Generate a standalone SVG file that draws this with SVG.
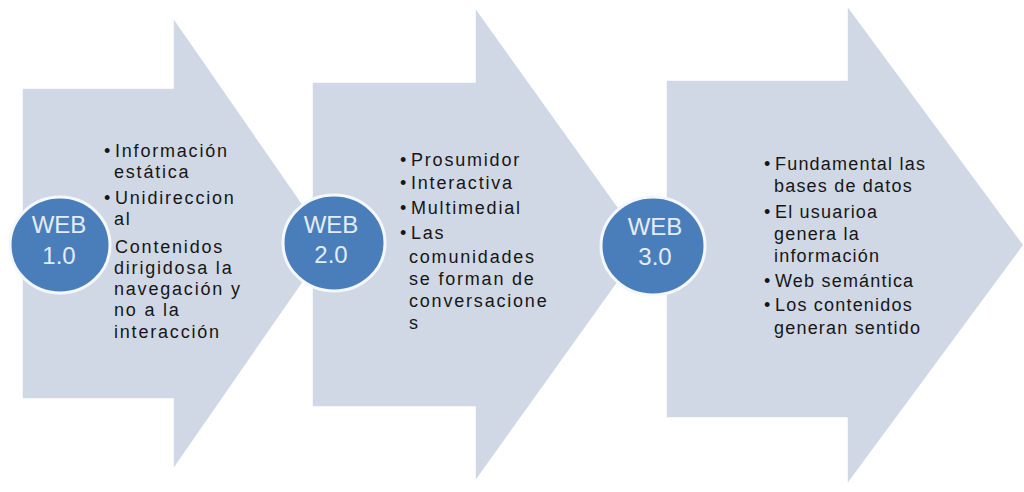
<svg xmlns="http://www.w3.org/2000/svg" width="1024" height="492" viewBox="0 0 1024 492">
  <style>
    .arrow { fill: #d1d8e5; stroke: #ffffff; stroke-width: 1.5; stroke-linejoin: miter; }
    .badge { fill: #4a7ebb; stroke: #f4f7fb; stroke-width: 3; }
    .badge-label { font-family: "Liberation Sans", Arial, sans-serif; font-size: 24px; fill: #e4ecf7; text-anchor: middle; }
    .items { font-family: "Liberation Sans", Arial, sans-serif; font-size: 18px; fill: #161616; letter-spacing: 1.8px; }
    .items.tight { letter-spacing: 1.2px; }
    .dot { letter-spacing: 0; }
  </style>
  <rect width="1024" height="492" fill="#ffffff"/>

  <!-- Stage 1 -->
  <g id="web10">
    <polygon class="arrow" points="22,88 173,88 173,17 330,243.5 173,470 173,399 22,399"/>
    <text class="items">
      <tspan class="dot" x="104" y="157">•</tspan><tspan x="115" y="157">Información</tspan>
      <tspan x="114" y="178">estática</tspan>
      <tspan class="dot" x="104" y="204">•</tspan><tspan x="115" y="204">Unidireccion</tspan>
      <tspan x="114" y="225">al</tspan>
      <tspan x="115" y="253">Contenidos</tspan>
      <tspan x="114" y="274">dirigidosa la</tspan>
      <tspan x="114" y="295">navegación y</tspan>
      <tspan x="114" y="316">no a la</tspan>
      <tspan x="114" y="338">interacción</tspan>
    </text>
  </g>

  <!-- Stage 2 -->
  <g id="web20">
    <polygon class="arrow" points="312,82 475,82 475,7 645,244.5 475,482 475,407 312,407"/>
    <text class="items">
      <tspan class="dot" x="400" y="166">•</tspan><tspan x="411" y="166">Prosumidor</tspan>
      <tspan class="dot" x="400" y="189">•</tspan><tspan x="411" y="189">Interactiva</tspan>
      <tspan class="dot" x="400" y="214">•</tspan><tspan x="411" y="214">Multimedial</tspan>
      <tspan class="dot" x="400" y="239">•</tspan><tspan x="411" y="239">Las</tspan>
      <tspan x="409" y="263">comunidades</tspan>
      <tspan x="409" y="285">se forman de</tspan>
      <tspan x="409" y="307">conversacione</tspan>
      <tspan x="409" y="329">s</tspan>
    </text>
  </g>

  <!-- Stage 3 -->
  <g id="web30">
    <polygon class="arrow" points="666,80 847,80 847,5 1024,245 847,485 847,418 666,418"/>
    <text class="items tight">
      <tspan class="dot" x="764" y="170">•</tspan><tspan x="775" y="170">Fundamental las</tspan>
      <tspan x="774" y="192">bases de datos</tspan>
      <tspan class="dot" x="764" y="218">•</tspan><tspan x="775" y="218">El usuarioa</tspan>
      <tspan x="774" y="240">genera  la</tspan>
      <tspan x="774" y="262">información</tspan>
      <tspan class="dot" x="764" y="287">•</tspan><tspan x="775" y="287">Web semántica</tspan>
      <tspan class="dot" x="764" y="311">•</tspan><tspan x="775" y="311">Los contenidos</tspan>
      <tspan x="774" y="334">generan sentido</tspan>
    </text>
  </g>

  <!-- Stage badges drawn last so they sit over the arrow tips -->
  <g id="badge-web10">
    <ellipse class="badge" cx="60" cy="245" rx="50" ry="48"/>
    <text class="badge-label" x="59" y="233">WEB<tspan x="59" y="264">1.0</tspan></text>
  </g>
  <g id="badge-web20">
    <ellipse class="badge" cx="334" cy="243" rx="51" ry="48"/>
    <text class="badge-label" x="331" y="233">WEB<tspan x="331" y="263">2.0</tspan></text>
  </g>
  <g id="badge-web30">
    <ellipse class="badge" cx="653" cy="246" rx="52" ry="49"/>
    <text class="badge-label" x="655" y="235">WEB<tspan x="655" y="265">3.0</tspan></text>
  </g>
</svg>
